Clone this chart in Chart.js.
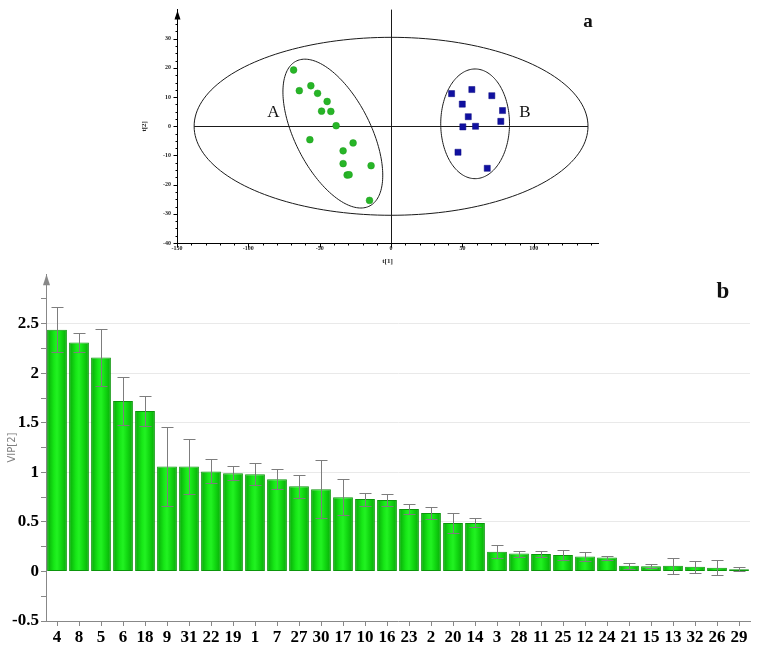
<!DOCTYPE html>
<html>
<head>
<meta charset="utf-8">
<script src="https://cdn.jsdelivr.net/npm/chart.js@4.4.1/dist/chart.umd.min.js"></script>
<style>
    body { margin: 0; background: #fff; width: 767px; height: 650px; position: relative; overflow: hidden; }
    #scoreWrap { position: absolute; left: 140px; top: 0; width: 480px; height: 265px; }
    #vipWrap { position: absolute; left: 0; top: 262px; width: 767px; height: 388px; }
</style>
</head>
<body>
<div id="scoreWrap"><canvas id="chartScore"></canvas></div>
<div id="vipWrap"><canvas id="chartVip"></canvas></div>
<script>
// score plot (a): t[1] / t[2] per group
let groupAX = [-68.3, -64.3, -56.2, -51.5, -44.8, -48.7, -42.2, -38.5, -56.9, -26.6, -33.6, -33.6, -14.0, -30.8, -29.4, -15.1]
let groupAY = [19.3, 12.2, 13.9, 11.3, 8.5, 5.2, 5.1, 0.2, -4.6, -5.7, -8.4, -12.8, -13.5, -16.7, -16.6, -25.4]
let groupBX = [42.4, 56.6, 70.6, 49.9, 78.1, 54.1, 76.9, 50.3, 59.2, 46.9, 67.4]
let groupBY = [11.2, 12.6, 10.5, 7.6, 5.4, 3.3, 1.7, -0.2, 0.0, -8.9, -14.4]
let scoreXTicks = [-150, -100, -50, 0, 50, 100]
let scoreYTicks = [-40, -30, -20, -10, 0, 10, 20, 30]

// VIP plot (b)
let vipLabels = ['4', '8', '5', '6', '18', '9', '31', '22', '19', '1', '7', '27', '30', '17', '10', '16',
    '23', '2', '20', '14', '3', '28', '11', '25', '12', '24', '21', '15', '13', '32', '26', '29']
let vipValues = [2.44, 2.31, 2.16, 1.72, 1.62, 1.06, 1.06, 1.01, 0.99, 0.98, 0.93, 0.86, 0.83, 0.75, 0.73, 0.72,
    0.63, 0.59, 0.49, 0.49, 0.20, 0.18, 0.175, 0.165, 0.15, 0.14, 0.057, 0.052, 0.057, 0.047, 0.037, 0.023]
let vipErrors = [0.23, 0.095, 0.285, 0.245, 0.15, 0.40, 0.28, 0.12, 0.07, 0.11, 0.10, 0.117, 0.29, 0.185, 0.065, 0.06,
    0.048, 0.063, 0.097, 0.045, 0.067, 0.03, 0.033, 0.05, 0.047, 0.02, 0.03, 0.02, 0.08, 0.06, 0.075, 0.023]

const serif = "'Liberation Serif', 'Times New Roman', serif"

function toPoints(xs, ys) {
    return xs.map((x, i) => ({ x: x, y: ys[i] }))
}

// ellipses in data units: cx, cy, semi-axes, rotation (deg)
const scoreEllipses = [
    { cx: 0, cy: 0, a: 138, b: 30.5, rot: 0 },
    { cx: -40.8, cy: -2.5, a: 38.9, b: 19.0, rot: -30.1 },
    { cx: 58.9, cy: 0.85, a: 24.1, b: 18.8, rot: 0 }
]

const scoreExtras = {
    id: 'scoreExtras',
    beforeDatasetsDraw(chart) {
        const { ctx, chartArea, scales: { x, y } } = chart
        ctx.save()
        ctx.strokeStyle = '#1a1a1a'
        ctx.lineWidth = 1
        scoreEllipses.forEach(e => {
            const r = e.rot * Math.PI / 180
            ctx.beginPath()
            for (let k = 0; k <= 180; k++) {
                const t = k / 180 * Math.PI * 2
                const dx = e.a * Math.cos(t), dy = e.b * Math.sin(t)
                const px = x.getPixelForValue(e.cx + dx * Math.cos(r) - dy * Math.sin(r))
                const py = y.getPixelForValue(e.cy + dx * Math.sin(r) + dy * Math.cos(r))
                if (k === 0) ctx.moveTo(px, py); else ctx.lineTo(px, py)
            }
            ctx.stroke()
        })
        // cross through origin
        const x0 = Math.round(x.getPixelForValue(0)) + 0.5
        const y0 = Math.round(y.getPixelForValue(0)) + 0.5
        ctx.beginPath()
        ctx.moveTo(x0, chartArea.top); ctx.lineTo(x0, chartArea.bottom)
        ctx.moveTo(x.getPixelForValue(-138), y0); ctx.lineTo(x.getPixelForValue(138), y0)
        ctx.stroke()

        // tick marks
        ctx.strokeStyle = '#000'
        const ax = chartArea.left + 0.5, ay = chartArea.bottom + 0.5
        ctx.beginPath()
        for (let v = -40; v <= 38; v += 2.5) {
            const py = Math.round(y.getPixelForValue(v)) + 0.5
            const len = v % 10 === 0 ? 4 : 2
            ctx.moveTo(ax - len, py); ctx.lineTo(ax, py)
        }
        for (let v = -150; v <= 140; v += 10) {
            const px = Math.round(x.getPixelForValue(v)) + 0.5
            const len = v % 50 === 0 ? 4 : 2
            ctx.moveTo(px, ay); ctx.lineTo(px, ay + len)
        }
        ctx.stroke()
        // arrow on t[2] axis
        ctx.fillStyle = '#000'
        ctx.beginPath()
        ctx.moveTo(ax, chartArea.top + 1)
        ctx.lineTo(ax - 3, chartArea.top + 10)
        ctx.lineTo(ax + 3, chartArea.top + 10)
        ctx.closePath()
        ctx.fill()

        ctx.fillStyle = '#111'
        ctx.font = '17px ' + serif
        ctx.textAlign = 'center'
        ctx.textBaseline = 'middle'
        ctx.fillText('A', x.getPixelForValue(-82.5), y.getPixelForValue(4.6))
        ctx.fillText('B', x.getPixelForValue(93.8), y.getPixelForValue(4.6))
        ctx.font = 'bold 19px ' + serif
        ctx.fillText('a', 448, 22)
        ctx.restore()
    }
}

new Chart(document.getElementById('chartScore'), {
    type: 'scatter',
    data: {
        datasets: [
            { label: 'A', data: toPoints(groupAX, groupAY), pointStyle: 'circle', pointRadius: 3.4,
              backgroundColor: '#27b527', borderColor: '#1f9f1f', borderWidth: 0.5 },
            { label: 'B', data: toPoints(groupBX, groupBY), pointStyle: 'rect', pointRadius: 4.3,
              backgroundColor: '#1010a0', borderColor: '#0a0a80', borderWidth: 0.5 }
        ]
    },
    options: {
        responsive: true,
        maintainAspectRatio: false,
        animation: false,
        layout: { padding: { left: 0, right: 22, top: 7, bottom: 0 } },
        plugins: { legend: { display: false }, tooltip: { enabled: false } },
        scales: {
            x: {
                min: -150, max: 145,
                afterBuildTicks: (s) => { s.ticks = scoreXTicks.map(v => ({ value: v })) },
                afterFit: (s) => { s.height = 22 },
                grid: { display: false, drawTicks: false },
                border: { display: true, color: '#000', width: 1 },
                ticks: { padding: 2, color: '#222', font: { family: serif, size: 6, weight: 'bold' } },
                title: { display: true, text: 't[1]', padding: 0, color: '#222',
                         font: { family: serif, size: 7, weight: 'bold' } }
            },
            y: {
                min: -40, max: 40,
                afterBuildTicks: (s) => { s.ticks = scoreYTicks.map(v => ({ value: v })) },
                afterFit: (s) => { s.width = 37 },
                grid: { display: false, drawTicks: false },
                border: { display: true, color: '#000', width: 1 },
                ticks: { padding: 6, color: '#222', font: { family: serif, size: 6, weight: 'bold' } },
                title: { display: true, text: 't[2]', padding: 0, color: '#222',
                         font: { family: serif, size: 7, weight: 'bold' } }
            }
        }
    },
    plugins: [scoreExtras]
})

const errorBars = {
    id: 'errorBars',
    afterDatasetsDraw(chart) {
        const { ctx, scales: { x, y } } = chart
        ctx.save()
        ctx.strokeStyle = '#7d7d7d'
        ctx.lineWidth = 1
        vipValues.forEach((v, i) => {
            const px = Math.round(x.getPixelForValue(i)) + 0.5
            const top = Math.round(y.getPixelForValue(v + vipErrors[i])) + 0.5
            const bot = Math.round(y.getPixelForValue(v - vipErrors[i])) + 0.5
            ctx.beginPath()
            ctx.moveTo(px, top); ctx.lineTo(px, bot)
            ctx.moveTo(px - 6, top); ctx.lineTo(px + 6, top)
            ctx.moveTo(px - 6, bot); ctx.lineTo(px + 6, bot)
            ctx.stroke()
        })
        ctx.restore()
    },
    afterDraw(chart) {
        const { ctx, chartArea } = chart
        ctx.save()
        ctx.fillStyle = '#888'
        const ax = chartArea.left + 0.5
        ctx.beginPath()
        ctx.moveTo(ax, chartArea.top)
        ctx.lineTo(ax - 3.5, chartArea.top + 11)
        ctx.lineTo(ax + 3.5, chartArea.top + 11)
        ctx.closePath()
        ctx.fill()
        ctx.fillStyle = '#111'
        ctx.font = 'bold 23px ' + serif
        ctx.textAlign = 'center'
        ctx.textBaseline = 'middle'
        ctx.fillText('b', 723, 30)
        ctx.restore()
    }
}

function barShade(c) {
    const xs = c.chart.scales.x
    if (!xs || !isFinite(xs.getPixelForValue(c.dataIndex)) || !xs.width) return '#12dc12'
    const cx = xs.getPixelForValue(c.dataIndex)
    const half = xs.width / vipLabels.length * 0.45
    const g = c.chart.ctx.createLinearGradient(cx - half, 0, cx + half, 0)
    g.addColorStop(0, '#06a806')
    g.addColorStop(0.35, '#17e817')
    g.addColorStop(0.5, '#22f222')
    g.addColorStop(0.7, '#12da12')
    g.addColorStop(1, '#07aa07')
    return g
}

const isHalf = (v) => Math.abs(v * 2 - Math.round(v * 2)) < 1e-6

new Chart(document.getElementById('chartVip'), {
    type: 'bar',
    data: {
        labels: vipLabels,
        datasets: [{
            label: 'VIP[2]',
            data: vipValues,
            backgroundColor: barShade,
            borderColor: '#0b960b',
            borderWidth: 1,
            borderSkipped: false,
            categoryPercentage: 1.0,
            barPercentage: 0.9
        }]
    },
    options: {
        responsive: true,
        maintainAspectRatio: false,
        animation: false,
        layout: { padding: { left: 0, right: 17, top: 10, bottom: 0 } },
        plugins: { legend: { display: false }, tooltip: { enabled: false } },
        scales: {
            x: {
                afterFit: (s) => { s.height = 29 },
                grid: { offset: false, color: 'rgba(0,0,0,0)', tickColor: '#888', tickLength: 5 },
                border: { display: true, color: '#888', width: 1 },
                ticks: { autoSkip: false, maxRotation: 0, padding: 1, color: '#000',
                         font: { family: serif, size: 17, weight: 'bold' } }
            },
            y: {
                min: -0.5, max: 3,
                afterFit: (s) => { s.width = 46 },
                grid: {
                    color: (c) => (c.tick && isHalf(c.tick.value) && c.tick.value > 0.01 && c.tick.value < 2.9) ? '#e9e9e9' : 'rgba(0,0,0,0)',
                    tickColor: (c) => (c.tick && c.tick.value < 2.9) ? '#888' : 'rgba(0,0,0,0)',
                    tickLength: 5
                },
                border: { display: true, color: '#888', width: 1 },
                ticks: {
                    stepSize: 0.25,
                    padding: 2,
                    color: '#000',
                    font: { family: serif, size: 17, weight: 'bold' },
                    callback: (v) => (isHalf(v) && v < 2.9) ? String(Math.round(v * 10) / 10) : ''
                },
                title: { display: true, text: 'VIP[2]', padding: { top: 6, bottom: 0 }, color: '#808080',
                         font: { family: "'DejaVu Sans', sans-serif", size: 10 } }
            }
        }
    },
    plugins: [errorBars]
})
</script>
</body>
</html>
